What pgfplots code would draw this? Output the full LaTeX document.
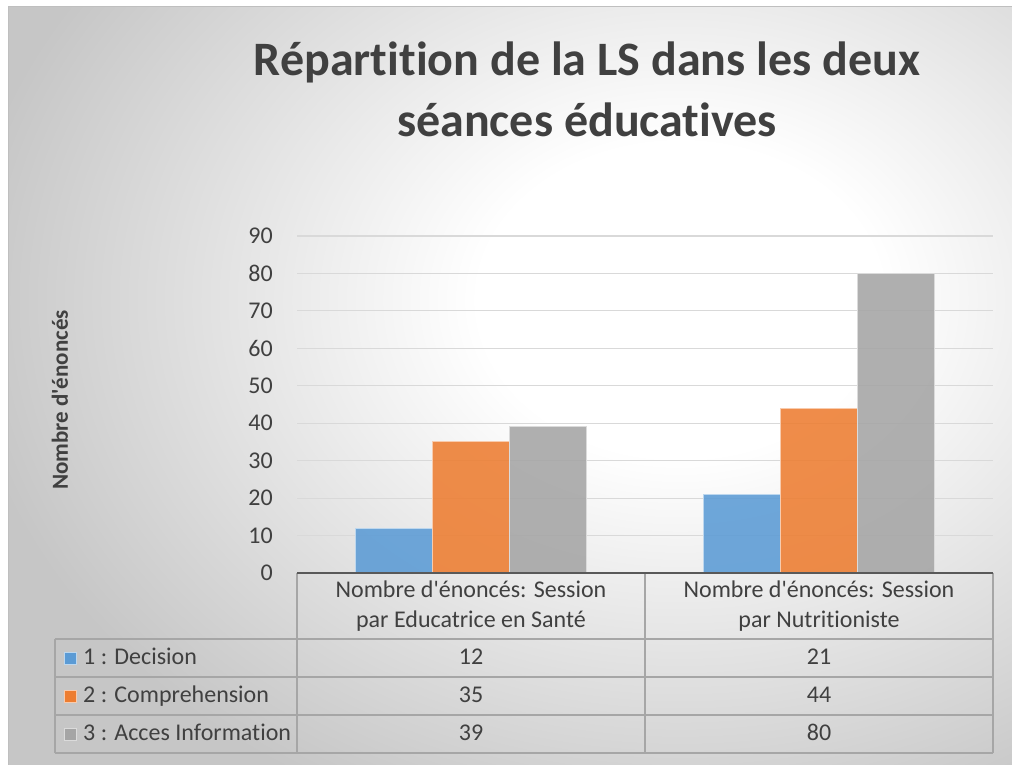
\documentclass[border=0pt]{standalone}
\usepackage{pgfplots}
\pgfplotsset{compat=1.18}
\usepackage{fontspec}
\setmainfont[Ligatures={NoCommon}]{Carlito}
\definecolor{txt}{HTML}{404040}
\definecolor{cblue}{HTML}{5B9BD5}
\definecolor{corange}{HTML}{ED7D31}
\definecolor{cgray}{HTML}{A5A5A5}
\definecolor{gridc}{HTML}{D9D9D9}
\definecolor{tline}{HTML}{A6A6A6}
\definecolor{bgout}{HTML}{C6C6C6}
\definecolor{axc}{HTML}{595959}
\pgfdeclareradialshading{bgshade}{\pgfpoint{0bp}{0bp}}{color(0bp)=(white); color(7bp)=(white); color(25bp)=(bgout); color(50bp)=(bgout)}
\newcommand\lab{\fontsize{24}{28}\selectfont}
\newcommand\q{\textquotesingle}
\begin{document}
\begin{tikzpicture}[x=1pt,y=1pt]
\path[use as bounding box] (0,0) rectangle (1012,765);
\fill[white] (0,0) rectangle (1012,765);
\begin{scope}
\clip (8,0) rectangle (1012,758);
\fill[bgout] (8,0) rectangle (1012,758);
\shade[shading=bgshade] (680,465) ellipse (720 and 560);
\end{scope}
\draw[draw=black!25, line width=1] (8,-1) -- (8,758) -- (1013,758);
% title
\node[anchor=base, text=txt, font=\fontsize{48}{56}\selectfont\bfseries, inner sep=0] at (587,689) {Répartition de la LS dans les deux};
\node[anchor=base, text=txt, font=\fontsize{48}{56}\selectfont\bfseries, inner sep=0] at (587,628) {séances éducatives};
% y label
\node[rotate=90, text=txt, font=\fontsize{23}{27}\selectfont\bfseries, inner sep=0] at (60,365) {Nombre d\q énoncés};
\begin{axis}[
  at={(297pt,192pt)}, anchor=south west, scale only axis,
  width=696pt, height=337pt,
  ymin=0, ymax=90, ytick={0,10,...,90},
  xmin=-0.5, xmax=1.5, xtick=\empty,
  ybar=0pt, bar width=77pt,
  axis line style={draw=none},
  ymajorgrids, grid style={draw=gridc, line width=1.2pt},
  major tick length=0pt,
  yticklabel style={font=\lab, text=txt, anchor=east, inner sep=0pt, xshift=-24pt},
  /pgf/number format/assume math mode=true,
  clip=false,
]
\addplot[fill=cblue, fill opacity=0.88, draw=cblue!40!white, line width=1pt] coordinates {(0,12) (1,21)};
\addplot[fill=corange, fill opacity=0.88, draw=corange!40!white, line width=1pt] coordinates {(0,35) (1,44)};
\addplot[fill=cgray, fill opacity=0.88, draw=cgray!40!white, line width=1pt] coordinates {(0,39) (1,80)};
\end{axis}
% data table
\begin{scope}[draw=tline, line width=1.5pt]
\draw (55,126) -- (993,126);
\draw (55,88) -- (993,88);
\draw (55,50) -- (993,50);
\draw (55,12) -- (993,12);
\draw (297,192) -- (297,12);
\draw (645,192) -- (645,12);
\draw (993,192) -- (993,12);
\draw (55,126) -- (55,12);
\end{scope}
\draw[axc, line width=2.2pt] (297,192) -- (993,192);
\begin{scope}[every node/.style={text=txt, font=\lab, inner sep=0, anchor=base}]
\node at (471,167) {Nombre d\q énoncés: Session};
\node at (471,137) {par Educatrice en Santé};
\node at (819,167) {Nombre d\q énoncés: Session};
\node at (819,137) {par Nutritioniste};
\node at (471,100) {12};
\node at (819,100) {21};
\node at (471,62) {35};
\node at (819,62) {44};
\node at (471,24) {39};
\node at (819,24) {80};
\node[anchor=base west] at (83,100) {1 : Decision};
\node[anchor=base west] at (83,62) {2 : Comprehension};
\node[anchor=base west] at (83,24) {3 : Acces Information};
\end{scope}
\fill[cblue, draw=cblue!40!white] (64,101) rectangle (76,113);
\fill[corange, draw=corange!40!white] (64,63) rectangle (76,75);
\fill[cgray, draw=cgray!40!white] (64,25) rectangle (76,37);
\end{tikzpicture}
\end{document}
